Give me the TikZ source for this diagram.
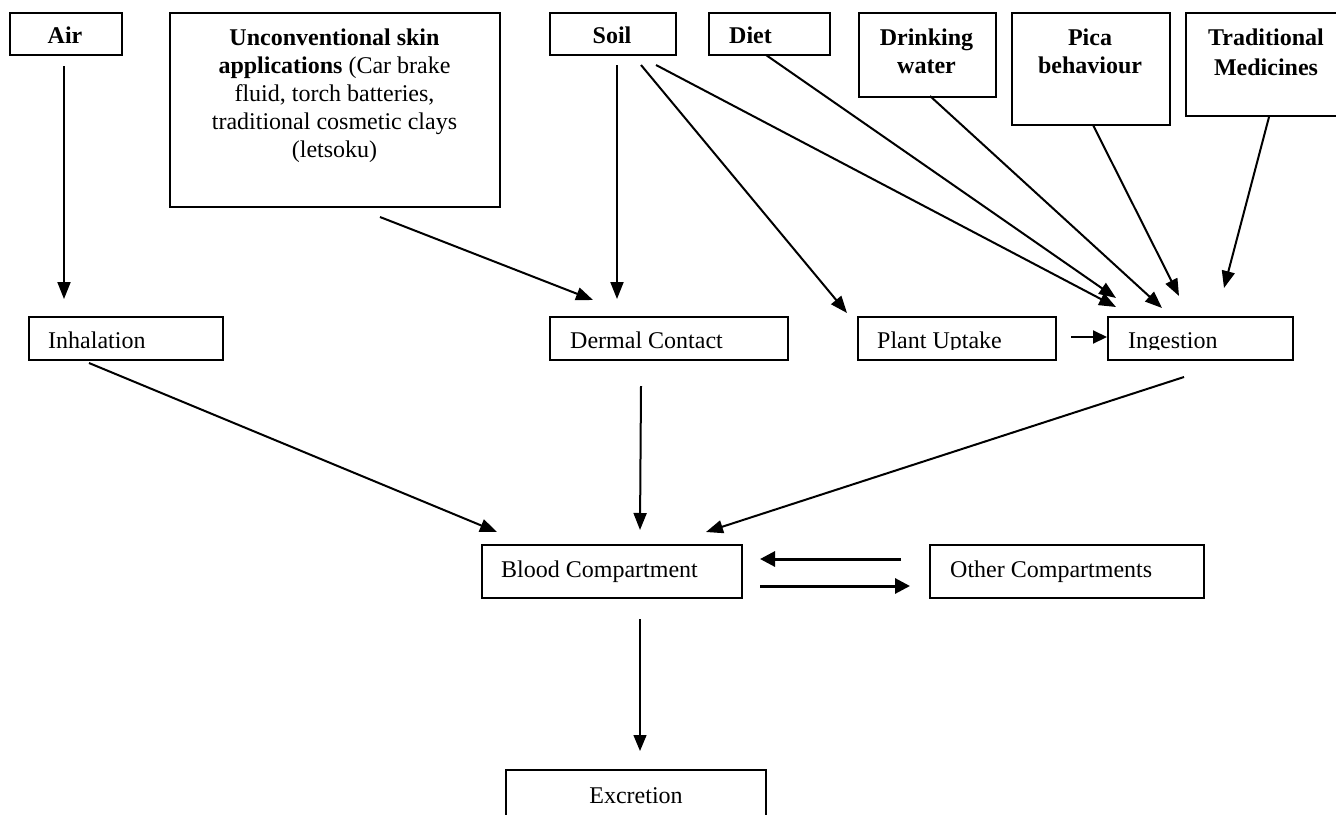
\documentclass[tikz,border=0pt]{standalone}
\usepackage{fontspec}
\setmainfont{Liberation Serif}
\usetikzlibrary{arrows.meta}
\begin{document}
\begin{tikzpicture}[x=1pt,y=-1pt,
  box/.style={draw, line width=1.5pt, inner sep=0pt, anchor=north west},
  txt/.style={inner sep=0pt, font=\fontsize{24}{28}\selectfont},
  btxt/.style={inner sep=0pt, font=\fontsize{24}{28}\selectfont\bfseries, align=center},
  arr/.style={line width=2pt, -{Triangle[length=17pt,width=13pt]}},
  thinarr/.style={line width=1.4pt, -{Triangle[length=16pt,width=13pt]}},
  thickarr/.style={line width=3pt, -{Triangle[length=15pt,width=15pt]}}]
\useasboundingbox (0,0) rectangle (1336,814);

% ---- top boxes
\node[box, minimum width=112, minimum height=42] (air) at (9,12) {};
\node[box, minimum width=330, minimum height=194] (unc) at (169,12) {};
\node[box, minimum width=126, minimum height=42] (soil) at (549,12) {};
\node[box, minimum width=121, minimum height=42] (diet) at (708,12) {};
\node[box, minimum width=137, minimum height=84] (drink) at (858,12) {};
\node[box, minimum width=158, minimum height=112] (pica) at (1011,12) {};
\node[box, minimum width=162, minimum height=103] (trad) at (1185,12) {};

\node[btxt, anchor=base] (airt) at (65,43) {Air};
\node[txt, anchor=north, align=center] (unct) at (334.5,28.5)
  {\textbf{Unconventional skin}\\ \textbf{applications} (Car brake\\ fluid, torch batteries,\\ traditional cosmetic clays\\ (letsoku)};
\node[btxt, anchor=base] (soilt) at (612,43) {Soil};
\node[btxt, anchor=base west] (diett) at (729,43) {Diet};
\node[btxt, anchor=base] (drinkt1) at (926.5,45) {Drinking};
\node[btxt, anchor=base] (drinkt2) at (926.5,73) {water};
\node[btxt, anchor=base] (picat1) at (1090,45) {Pica};
\node[btxt, anchor=base] (picat2) at (1090,73) {behaviour};
\node[btxt, anchor=base] (tradt1) at (1266,45) {Traditional};
\node[btxt, anchor=base] (tradt2) at (1266,75) {Medicines};

% ---- middle row
\node[box, minimum width=194, minimum height=43] (inh) at (28,316) {};
\node[box, minimum width=238, minimum height=43] (derm) at (549,316) {};
\node[box, minimum width=198, minimum height=43] (plant) at (857,316) {};
\node[box, minimum width=185, minimum height=43] (ing) at (1107,316) {};
\node[txt, anchor=base west] (inht) at (48,348) {Inhalation};
\node[txt, anchor=base west] (dermt) at (570,348) {Dermal Contact};
\begin{scope}
\clip (857,316) rectangle (1292,349.5);
\node[txt, anchor=base west] (plantt) at (877,348) {Plant Uptake};
\node[txt, anchor=base west] (ingt) at (1128,348) {Ingestion};
\end{scope}

% ---- lower boxes
\node[box, minimum width=260, minimum height=53] (blood) at (481,544) {};
\node[box, minimum width=274, minimum height=53] (other) at (929,544) {};
\node[box, minimum width=260, minimum height=70] (excr) at (505,769) {};
\node[txt, anchor=base west] (bloodt) at (501,577) {Blood Compartment};
\node[txt, anchor=base west] (othert) at (950,577) {Other Compartments};
\node[txt, anchor=base] (excrt) at (636,803) {Excretion};

% ---- connector end points
\coordinate (airO) at (64,66);      \coordinate (inhI) at (64,299);
\coordinate (soilO1) at (617,65);   \coordinate (dermI1) at (617,299);
\coordinate (uncO) at (380,217);    \coordinate (dermI2) at (593,300);
\coordinate (soilO2) at (641,65);   \coordinate (plantI) at (847,313);
\coordinate (soilO3) at (656,65);   \coordinate (ingI1) at (1116,307);
\coordinate (dietO) at (766,55);    \coordinate (ingI2) at (1116,298);
\coordinate (drinkO) at (930,96);   \coordinate (ingI3) at (1162,308);
\coordinate (picaO) at (1093,125);  \coordinate (ingI4) at (1179,296);
\coordinate (tradO) at (1269,117);  \coordinate (ingI5) at (1224,288);
\coordinate (plantO) at (1071,337); \coordinate (ingI6) at (1107,337);
\coordinate (inhO) at (89,363);     \coordinate (bloodI1) at (497,532);
\coordinate (dermO) at (641,386);   \coordinate (bloodI2) at (640,530);
\coordinate (ingO) at (1184,377);   \coordinate (bloodI3) at (706,532);
\coordinate (otherO) at (901,559);  \coordinate (bloodI4) at (760,559);
\coordinate (bloodO1) at (760,586); \coordinate (otherI) at (910,586);
\coordinate (bloodO2) at (640,619); \coordinate (excrI) at (640,751);

% ---- connectors
\draw[arr] (airO) -- (inhI);
\draw[arr] (soilO1) -- (dermI1);
\draw[arr] (uncO) -- (dermI2);
\draw[arr] (soilO2) -- (plantI);
\draw[arr] (soilO3) -- (ingI1);
\draw[arr] (dietO) -- (ingI2);
\draw[arr] (drinkO) -- (ingI3);
\draw[arr] (picaO) -- (ingI4);
\draw[arr] (tradO) -- (ingI5);
\draw[line width=2pt, -{Triangle[length=14pt,width=13pt]}] (plantO) -- (ingI6);
\draw[arr] (inhO) -- (bloodI1);
\draw[arr] (dermO) -- (bloodI2);
\draw[arr] (ingO) -- (bloodI3);
\draw[thickarr] (otherO) -- (bloodI4);
\draw[thickarr] (bloodO1) -- (otherI);
\draw[thinarr] (bloodO2) -- (excrI);
\end{tikzpicture}
\end{document}
